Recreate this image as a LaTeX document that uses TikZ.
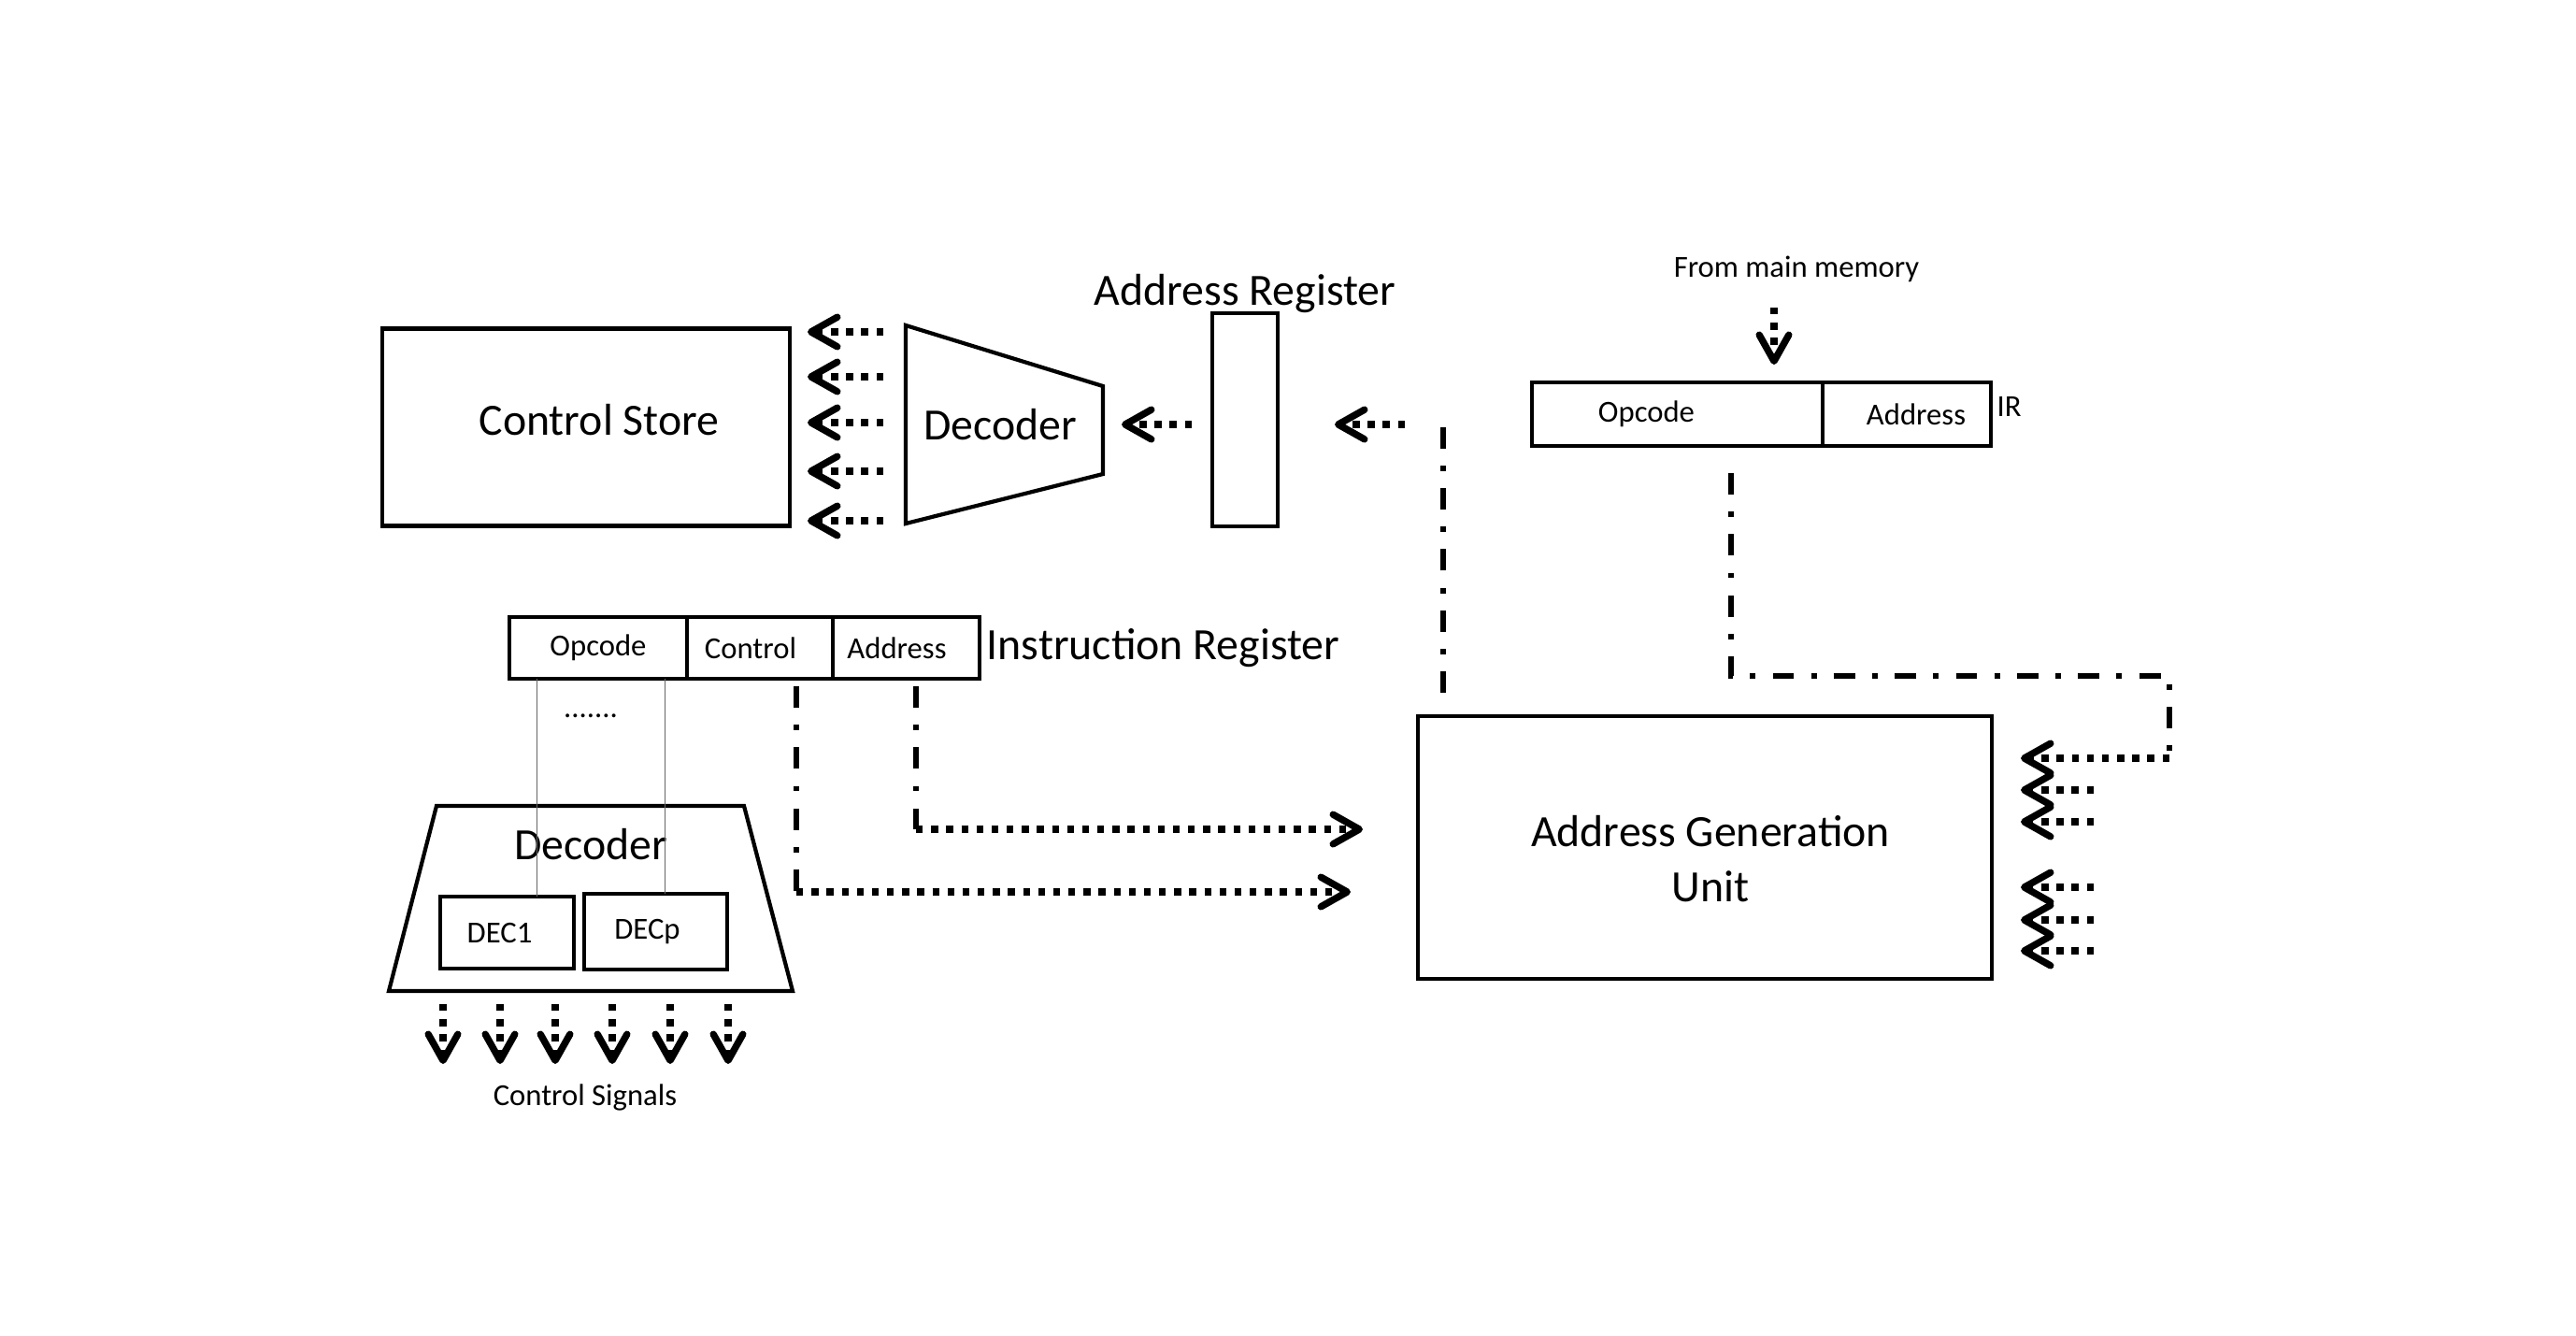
\documentclass[tikz,border=0pt]{standalone}
\usepackage{fontspec}
\setmainfont{Carlito}
\usepackage{tikz}
\usetikzlibrary{arrows.meta,positioning,calc}

\begin{document}
\begin{tikzpicture}[
  font=\fontsize{13.6}{17}\selectfont,
  sm/.style={font=\fontsize{9.3}{11}\selectfont},
  box/.style={draw, line width=1.2pt, inner sep=0pt, outer sep=0pt, align=center},
  sig/.style={line width=2.1pt, dash pattern=on 2.1pt off 2.5pt, -{Straight Barb[length=8pt, width=9pt, round]}},
  ctl/.style={line width=1.6pt, dash pattern=on 6.5pt off 5.2pt on 1.7pt off 5.2pt},
  wire/.style={line width=0.4pt, black!60},
]
\useasboundingbox (0,0) rectangle (27.56,-14.28);

\node[box, minimum width=43.6mm, minimum height=21.1mm, label={[xshift=1.4mm, yshift=0.8mm]center:Control Store}] (cs) at (6.27,-4.57) {};
\draw[line width=1.2pt] (9.69,-3.48) coordinate (dl) -- (11.80,-4.13) -- (11.80,-5.07) coordinate (dr) -- (9.69,-5.60) -- cycle;
\node (dec) at (10.70,-4.54) {Decoder};
\foreach \y in {-3.55,-4.03,-4.52,-5.04,-5.57} \draw[sig, shorten <=2.4mm, shorten >=1.9mm] (dl |- 0,\y) -- (cs.east |- 0,\y);

\node[box, minimum width=7mm, minimum height=22.8mm] (ar) at (13.32,-4.49) {};
\node[above=0pt of ar, inner sep=0pt] (arl) {Address Register};
\draw[sig, shorten <=2.2mm, shorten >=2mm] (ar.west |- dec) -- (dr |- dec);

\node[box, minimum width=61.4mm, minimum height=28.1mm, label={[align=center, xshift=0.6mm, yshift=-1.2mm]center:Address Generation\\Unit}] (agu) at (18.24,-9.065) {};
\coordinate (ga) at ($(agu.north west)+(0.27,0)$);
\draw[ctl, shorten <=2.5mm] (ga) -- (ga |- dec);
\draw[sig, shorten <=4.1mm, shorten >=6.1mm] (ga |- dec) -- (ar.east |- dec);

\node[box, sm, minimum width=31.1mm, minimum height=6.8mm] (iop) at (17.945,-4.43) {Opcode\hspace*{6.6mm}};
\node[box, sm, minimum width=18mm, minimum height=6.8mm, right=0pt of iop] (iad) {\hspace*{2mm}Address};
\node[sm, inner sep=0pt, anchor=west] (irl) at ($(iad.east)+(0.06,0.08)$) {IR};
\node[sm] (fmm) at (19.22,-2.88) {From main memory};
\coordinate (mem) at (18.98,-3.29);
\draw[sig, shorten >=1.9mm] (mem) -- (mem |- iop.north);
\coordinate (gi) at ($(iop.south west)+(2.13,0)$);
\coordinate (gc) at (23.21,-8.11);
\draw[ctl, shorten <=2.9mm] (gi) |- ($(gc)+(0,0.88)$) -- (gc);
\draw[sig, shorten >=3.1mm] (gc) -- (gc -| agu.east);
\foreach \y in {-8.45,-8.79,-9.49,-9.84,-10.17} \draw[sig, shorten >=3.1mm] ($(agu.east |- 0,\y)+(1.09,0)$) -- (agu.east |- 0,\y);

\node[box, sm, minimum width=19mm, minimum height=6.6mm] (opc) at (6.40,-6.93) {Opcode};
\node[box, sm, minimum width=15.6mm, minimum height=6.6mm, right=0pt of opc] (ctr) {Control\hspace*{2mm}};
\node[box, sm, minimum width=15.7mm, minimum height=6.6mm, right=0pt of ctr] (adr) {Address\hspace*{2mm}};
\node[right=0.7mm of adr, inner sep=0pt] (irn) {Instruction Register};
\node[sm, anchor=base] (dots) at (6.32,-7.67) {.......};

\draw[line width=1.2pt] (4.67,-8.62) -- (7.96,-8.62) -- (8.48,-10.60) coordinate (br) -- (4.16,-10.60) coordinate (bl) -- cycle;
\node (decb) at (6.32,-9.03) {Decoder};
\node[box, sm, minimum width=14.3mm, minimum height=7.7mm] (d1) at (5.425,-9.975) {DEC1\hspace*{1.6mm}};
\node[box, sm, minimum width=15.3mm, minimum height=8.1mm] (dp) at (7.015,-9.965) {DECp\hspace*{1.8mm}};
\coordinate (w1) at ($(d1.north)+(0.32,0)$);
\coordinate (w2) at ($(dp.north)+(0.10,0)$);
\draw[wire] (w1 |- opc.south) -- (w1);
\draw[wire] (w2 |- opc.south) -- (w2);
\foreach \x in {4.74,5.35,5.94,6.55,7.17,7.79} \draw[sig, shorten <=1.4mm] (bl -| \x,0) -- ++(0,-0.78);
\node[sm] (csg) at (6.26,-11.74) {Control Signals};

\coordinate (g1) at (ctr.south -| 8.52,0);
\coordinate (g2) at (adr.south -| 9.80,0);
\draw[ctl, shorten <=0.8mm] (g1) -- ++(0,-2.28) coordinate (g1b);
\draw[sig, shorten >=7.2mm] (g1b) -- (g1b -| agu.west);
\draw[ctl, shorten <=0.8mm] (g2) -- ++(0,-1.61) coordinate (g2b);
\draw[sig, shorten >=5.9mm] (g2b) -- (g2b -| agu.west);
\end{tikzpicture}
\end{document}
